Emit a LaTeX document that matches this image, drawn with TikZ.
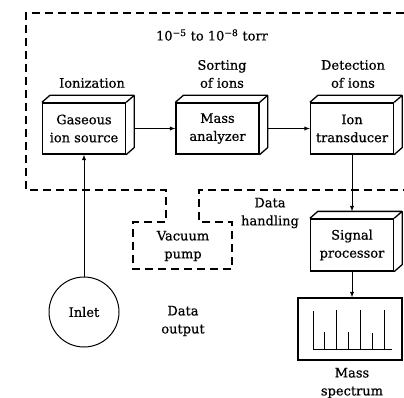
\documentclass[tikz,border=0pt]{standalone}
\usepackage{fontspec}
\setmainfont{DejaVu Serif}[FakeBold=0.6]
\usetikzlibrary{positioning}
\begin{document}
\begin{tikzpicture}[x=1pt,y=-1pt,
    font=\fontsize{13}{18}\selectfont,
    unit/.style={draw,line width=1.3pt,minimum width=83pt,minimum height=51pt,
                 inner sep=0pt,align=center},
    lbl/.style={align=center,inner sep=0pt},
    flow/.style={-latex,line width=0.9pt},
    vac/.style={line width=1.6pt,dash pattern=on 8pt off 5pt}]
    \useasboundingbox (0,0) rectangle (404,398);
    %vacuum region
    \draw[vac] (404,13)--(26,13)--(26,190)--(166,190)--(166,222)--(133,222)
               --(133,269)--(232,269)--(232,222)--(199,222)--(199,190)--(404,190);
    %units
    \node[unit] (src) at (84,128.5) {Gaseous\\ion source};
    \node[unit] (ana) at (217.5,128.5) {Mass\\analyzer};
    \node[unit] (det) at (352,128.5) {Ion\\transducer};
    \node[unit,minimum height=52pt] (sig) at (352,245) {Signal\\processor};
    \foreach \n in {src,ana,det,sig}
        \draw[line width=1.3pt,line join=round] (\n.north west)--++(8,-7)
            --([xshift=8pt,yshift=7pt]\n.north east)--([xshift=8pt,yshift=7pt]\n.south east)
            --(\n.south east) (\n.north east)--++(8,-7);
    \node[draw,circle,line width=1pt,minimum size=70pt,inner sep=0pt] (inlet) at (84,312) {Inlet};
    \node[draw,line width=1.3pt,minimum width=104pt,minimum height=62pt] (spec) at (350,329) {};
    %spectrum
    \draw[line width=0.8pt] (313,349)--(392,349);
    \foreach \x/\h in {313/38,324/17,336/39,348/17,360/39,372/16,384/39}
        \draw[line width=0.8pt] (\x,349)--++(0,-\h);
    %labels
    \node[lbl] (torr) at (212,35) {10\textsuperscript{−5} to 10\textsuperscript{−8} torr};
    \node[lbl] (ion) at (92,83) {Ionization};
    \node[lbl] (sort) at (222,74) {Sorting\\of ions};
    \node[lbl] (detl) at (353,74) {Detection\\of ions};
    \node[lbl] (pump) at (183,246) {Vacuum\\pump};
    \node[lbl] (hand) at (270,213) {Data\\handling};
    \node[lbl] (outp) at (183,321) {Data\\output};
    \node[lbl] (msp) at (352,383) {Mass\\spectrum};
    %connectors
    \draw[flow] (inlet.north)--(src.south);
    \draw[flow] ([xshift=8pt]src.east)--(ana.west);
    \draw[flow] ([xshift=8pt]ana.east)--(det.west);
    \draw[flow] (det.south)--([yshift=7pt]sig.north);
    \draw[flow] (sig.south)--(sig.south |- spec.north);
\end{tikzpicture}
\end{document}
